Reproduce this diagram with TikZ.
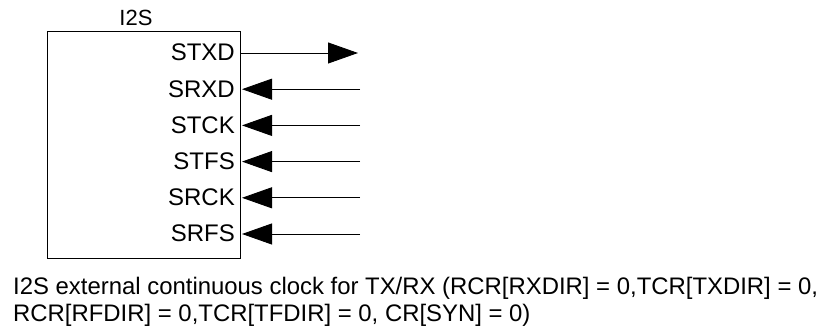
\documentclass[tikz,border=0pt]{standalone}
\usepackage{fontspec}
\setmainfont{Liberation Sans}
\usetikzlibrary{arrows.meta}

\tikzset{
  pinlabel/.style={anchor=base east,inner sep=0pt,font=\fontsize{24}{27}\selectfont},
  pinline/.style={line width=0.9pt,-{Triangle[length=30pt,width=21pt]}}
}

\begin{document}
\begin{tikzpicture}[x=1pt,y=-1pt]
  \useasboundingbox(0,0)rectangle(818,328);
  \draw[line width=0.9pt](47,31)rectangle(240,258);
  \node[anchor=base,inner sep=0pt,font=\fontsize{22}{24}\selectfont](title)at(136,26){I2S};
  % output pin
  \coordinate(txd)at(240,53);
  \coordinate(txdend)at(358,53);
  \node[pinlabel](STXD)at(235,61){STXD};
  \draw[pinline](txd)--(txdend);
  % input pins
  \foreach \name[count=\i] in {SRXD,STCK,STFS,SRCK,SRFS}{
    \coordinate(\name in)at(360,{53+36.2*\i});
    \coordinate(\name pin)at(242,{53+36.2*\i});
    \node[pinlabel](\name)at(235,{61+36.2*\i}){\name};
    \draw[pinline](\name in)--(\name pin);
  }
  \node[anchor=base west,inner sep=0pt,align=left,font=\fontsize{23.9}{27}\selectfont](caption)at(13,321)
    {I2S external continuous clock for TX/RX (RCR[RXDIR] = 0,TCR[TXDIR] = 0,\\
     RCR[RFDIR] = 0,TCR[TFDIR] = 0, CR[SYN] = 0)};
\end{tikzpicture}
\end{document}
